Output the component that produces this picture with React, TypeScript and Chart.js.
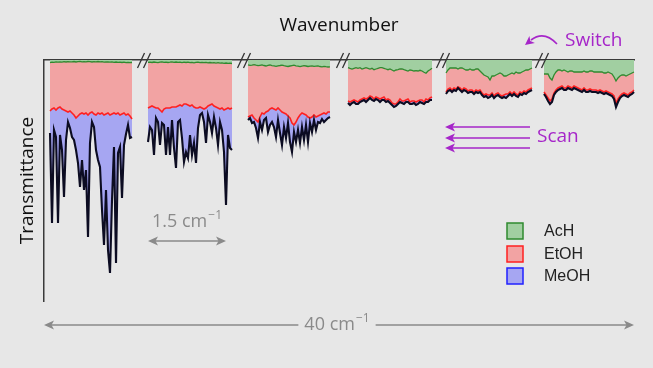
import React, { useEffect, useRef } from "react";
import { Chart, registerables } from "chart.js";

Chart.register(...registerables);

// Broken wavenumber axis: number of empty slots before each of the six windows
const GAPS = [3, 7, 7, 8, 6, 5];

// Transmittance (arbitrary units, 0 = bottom of axis) for each window
const ACH_1 = [238.4,238.9,238.6,239.1,238.8,239.2,238.9,239.3,239.0,239.4,239.1,239.2,239.5,239.0,239.3,239.6,239.2,239.4,239.1,239.5,239.3,239.0,239.4,239.2,239.5,239.1,239.3,238.9,239.2,239.0,238.8,239.1,238.7,239.0,238.6,238.9,238.5,238.8,238.4,238.7,238.3,238.5];
const ETOH_1 = [190,192,193,191,193,194,192,191,190,189,190,188,186,183,185,187,188,187,188,186,188,189,187,186,188,187,188,186,187,188,186,187,188,187,188,186,187,188,186,187,185,182];
const MEOH_1 = [168,78,171,164,78,166,151,104,161,179,173,164,161,151,138,114,141,111,131,64,158,179,174,151,141,134,91,56,111,51,28,101,154,38,148,154,103,156,167,176,163,164];

const ACH_2 = [238.6,238.9,238.5,239.0,238.7,238.4,238.8,239.1,238.6,238.9,238.5,238.8,239.2,238.7,239.0,238.6,238.9,238.4,238.8,238.5,238.9,238.3,238.7,238.2,238.6,238.9,238.4,238.7,238.3,238.6,238.1,238.5,238.2,238.4,237.9,238.3,237.8,238.1,237.7,238.0,237.6,237.8,237.5];
const ETOH_2 = [193,194,195,194,193,193,191,189,192,193,193,193,194,194,194,195,196,195,197,197,196,195,196,194,193,193,194,193,192,193,195,196,197,195,194,193,192,193,191,192,193,192,193];
const MEOH_2 = [159,174,171,146,183,179,156,178,176,146,174,146,181,153,133,179,181,163,139,149,143,166,146,158,138,173,186,188,179,158,186,179,168,184,173,156,179,171,149,96,166,153,151];

const ACH_3 = [236.2,235.6,235.9,236.4,235.8,235.3,235.7,236.1,235.5,235.0,235.6,236.0,235.4,235.1,234.6,235.2,235.5,235.9,235.3,234.9,234.5,235.0,235.4,235.8,235.2,234.8,234.3,234.9,235.3,235.0,234.5,234.9,235.2,234.6,234.9,235.1,234.5,234.2,234.7,234.3,234.0,234.2];
const ETOH_3 = [184,185,186,183,181,179,184,188,187,189,190,192,193,192,191,193,191,189,188,187,185,183,178,176,179,183,186,188,187,186,184,183,184,186,184,185,186,187,188,187,189,189];
const MEOH_3 = [181,183,178,179,173,163,179,171,181,183,169,176,179,174,164,181,168,156,174,163,178,159,149,169,159,171,158,174,161,176,159,178,169,181,171,179,178,182,179,181,183,184];

const ACH_4 = [233.3,232.6,232.0,232.7,233.3,232.7,233.3,232.0,232.7,233.3,232.7,232.0,232.7,231.3,232.0,232.7,233.3,233.3,232.7,232.0,231.3,232.0,231.0,230.0,231.0,231.3,232.0,232.0,231.3,230.7,230.0,231.0,230.7,230.0,230.3,230.0,230.7,230.0,228.7,227.7,230.0,231.3,232.7];
const ETOH_4 = [200,199,200,201,200,199,201,202,203,202,203,205,204,202,204,203,202,203,204,201,202,201,198,197,197,199,202,200,200,201,202,199,200,200,199,200,201,201,199,202,201,203,204];
const MEOH_4 = [198,196,198,199,197,197,199,200,201,199,201,203,201,200,202,201,199,201,201,199,200,198,196,194,195,197,199,198,197,199,199,197,197,198,196,197,199,198,197,199,199,201,201];

const ACH_5 = [228,231,233,233,233,233,232,233,233,232,231,231,232,231,231,232,232,230,228,226,225,224,221,225,225,226,227,228,227,225,225,226,227,228,227,229,228,228,229,230,231,231,232,233];
const ETOH_5 = [209,212,213,211,213,212,214,213,211,213,212,210,211,211,209,211,210,211,208,206,207,206,206,208,205,207,208,206,205,206,207,207,209,207,209,207,206,209,208,210,209,211,212,213];
const MEOH_5 = [207,210,211,209,211,210,213,211,209,211,210,208,209,209,207,209,208,209,206,204,205,203,204,206,203,205,206,204,203,204,203,205,207,205,207,205,204,207,206,208,207,209,210,211];

const ACH_6 = [227,227,227,223,221,226,229,231,231,230,231,230,229,230,230,229,229,229,229,229,230,229,229,230,230,229,229,229,229,229,228,228,229,228,227,224,220,223,225,226,226,225,226,227,228,229];
const ETOH_6 = [209,206,203,200,202,208,211,213,214,215,213,213,215,214,213,215,214,213,212,211,213,211,211,212,211,211,211,210,211,210,209,210,209,208,207,205,198,202,205,207,208,207,206,208,209,211];
const MEOH_6 = [207,204,200,197,199,206,209,211,212,213,211,211,213,212,211,213,212,211,210,209,211,209,209,210,209,209,209,208,209,208,207,208,207,206,205,202,194,199,203,205,206,205,204,206,207,209];

const ACH = [ACH_1, ACH_2, ACH_3, ACH_4, ACH_5, ACH_6];
const ETOH = [ETOH_1, ETOH_2, ETOH_3, ETOH_4, ETOH_5, ETOH_6];
const MEOH = [MEOH_1, MEOH_2, MEOH_3, MEOH_4, MEOH_5, MEOH_6];

const SERIES_NAMES = ["AcH", "EtOH", "MeOH"];
const Y_MAX = 241;

function joinSegments(segs: number[][]): (number | null)[] {
  const out: (number | null)[] = [];
  segs.forEach((s, k) => {
    for (let j = 0; j < GAPS[k]; j++) out.push(null);
    s.forEach((v) => out.push(v));
  });
  return out;
}

const TOTAL = GAPS.reduce((a, b) => a + b, 0) + MEOH.reduce((a, s) => a + s.length, 0);
const LABELS = Array.from({ length: TOTAL }, (_, i) => String(i));

// segment start / end indices
function segBounds() {
  const res: { start: number; end: number }[] = [];
  let idx = 0;
  MEOH.forEach((s, k) => {
    idx += GAPS[k];
    res.push({ start: idx, end: idx + s.length - 1 });
    idx += s.length;
  });
  return res;
}

const PURPLE = "#a626c9";
const GREY = "#8a8a8a";
const FONT = '"Open Sans", "Noto Sans", sans-serif';

function arrowHead(ctx: CanvasRenderingContext2D, x: number, y: number, ang: number, len: number, half: number) {
  ctx.beginPath();
  ctx.moveTo(x, y);
  ctx.lineTo(x - len * Math.cos(ang) + half * Math.sin(ang), y - len * Math.sin(ang) - half * Math.cos(ang));
  ctx.lineTo(x - len * Math.cos(ang) * 0.75, y - len * Math.sin(ang) * 0.75);
  ctx.lineTo(x - len * Math.cos(ang) - half * Math.sin(ang), y - len * Math.sin(ang) + half * Math.cos(ang));
  ctx.closePath();
  ctx.fill();
}

function cmText(ctx: CanvasRenderingContext2D, main: string, cx: number, cy: number, draw: boolean) {
  ctx.font = `18px ${FONT}`;
  const w1 = ctx.measureText(main).width;
  ctx.font = `12px ${FONT}`;
  const w2 = ctx.measureText("\u22121").width;
  const total = w1 + w2 + 1;
  if (draw) {
    const x0 = cx - total / 2;
    ctx.textAlign = "left";
    ctx.textBaseline = "middle";
    ctx.font = `18px ${FONT}`;
    ctx.fillText(main, x0, cy);
    ctx.font = `12px ${FONT}`;
    ctx.fillText("\u22121", x0 + w1 + 1, cy - 6);
  }
  return total;
}

const overlay = {
  id: "overlay",
  afterDraw(chart: any) {
    const ctx: CanvasRenderingContext2D = chart.ctx;
    const { left, right, top, bottom } = chart.chartArea;
    const xs = chart.scales.x;
    const bounds = segBounds();
    ctx.save();

    // axis break marks
    ctx.strokeStyle = "#333";
    ctx.lineWidth = 1.3;
    for (let k = 0; k < bounds.length - 1; k++) {
      const c = xs.getPixelForValue((bounds[k].end + bounds[k + 1].start) / 2) + 4;
      [-3, 3].forEach((off) => {
        ctx.beginPath();
        ctx.moveTo(c + off - 3.5, top + 8);
        ctx.lineTo(c + off + 3.5, top - 7);
        ctx.stroke();
      });
    }

    // Switch
    ctx.fillStyle = PURPLE;
    ctx.strokeStyle = PURPLE;
    ctx.font = `19px ${FONT}`;
    ctx.textAlign = "left";
    ctx.textBaseline = "middle";
    ctx.fillText("Switch", 565, 41);
    ctx.lineWidth = 1.6;
    ctx.beginPath();
    ctx.moveTo(557, 44);
    ctx.quadraticCurveTo(544, 30, 531, 40);
    ctx.stroke();
    arrowHead(ctx, 525, 45, Math.atan2(10, -13), 9, 4.5);

    // Scan
    ctx.fillText("Scan", 537, 137);
    [127, 138, 148].forEach((y) => {
      ctx.beginPath();
      ctx.moveTo(530, y);
      ctx.lineTo(452, y);
      ctx.stroke();
      arrowHead(ctx, 445, y, Math.PI, 10, 4.5);
    });

    // 1.5 cm-1 scale bar over second window
    ctx.fillStyle = GREY;
    ctx.strokeStyle = GREY;
    const a0 = xs.getPixelForValue(bounds[1].start);
    const a1 = xs.getPixelForValue(bounds[1].end) - 6;
    ctx.lineWidth = 1.6;
    ctx.beginPath();
    ctx.moveTo(a0 + 6, 241);
    ctx.lineTo(a1 - 6, 241);
    ctx.stroke();
    arrowHead(ctx, a0, 241, Math.PI, 10, 4.5);
    arrowHead(ctx, a1, 241, 0, 10, 4.5);
    cmText(ctx, "1.5 cm", (a0 + a1) / 2, 222, true);

    // 40 cm-1 full span
    const yb = 325;
    const cx = 337;
    const tw = cmText(ctx, "40 cm", cx, yb, false);
    ctx.beginPath();
    ctx.moveTo(left + 6, yb);
    ctx.lineTo(cx - tw / 2 - 6, yb);
    ctx.moveTo(cx + tw / 2 + 6, yb);
    ctx.lineTo(right - 6, yb);
    ctx.stroke();
    arrowHead(ctx, left, yb, Math.PI, 10, 4.5);
    arrowHead(ctx, right, yb, 0, 10, 4.5);
    cmText(ctx, "40 cm", cx, yb, true);

    // legend
    const ds = chart.data.datasets;
    [223, 246, 268].forEach((y, i) => {
      ctx.fillStyle = ds[i].backgroundColor;
      ctx.fillRect(507, y, 16, 16);
      ctx.strokeStyle = ds[i].legendBorder;
      ctx.lineWidth = 1.5;
      ctx.strokeRect(507, y, 16, 16);
      ctx.fillStyle = "#222";
      ctx.font = `16px "Liberation Sans", Arial, sans-serif`;
      ctx.textAlign = "left";
      ctx.textBaseline = "middle";
      ctx.fillText(ds[i].label, 544, y + 8.5);
    });
    ctx.restore();
  },
};

export default function App() {
  const ref = useRef<HTMLCanvasElement | null>(null);
  useEffect(() => {
    document.body.style.margin = "0";
    document.body.style.background = "#e7e7e7";
    const canvas = ref.current;
    if (!canvas) return;
    const common = { pointRadius: 0, tension: 0, spanGaps: false };
    const chart = new Chart(canvas, {
      type: "line",
      data: {
        labels: LABELS,
        datasets: [
          { ...common, label: SERIES_NAMES[0], data: joinSegments(ACH), borderColor: "#2f8a2f", borderWidth: 1.3, backgroundColor: "rgb(161,207,161)", legendBorder: "#2f8a2f", fill: "end", order: 2 } as any,
          { ...common, label: SERIES_NAMES[1], data: joinSegments(ETOH), borderColor: "#ff2020", borderWidth: 1.6, backgroundColor: "rgb(242,163,163)", legendBorder: "#ff2020", fill: "-1", order: 1 } as any,
          { ...common, label: SERIES_NAMES[2], data: joinSegments(MEOH), borderColor: "#0c0c22", borderWidth: 2.1, backgroundColor: "rgb(166,166,242)", legendBorder: "#2020ff", fill: "-1", order: 0 } as any,
        ],
      },
      options: {
        animation: false,
        responsive: false,
        events: [],
        layout: { padding: { left: 12.2, top: 10, right: 19, bottom: 67 } },
        plugins: {
          legend: { display: false },
          tooltip: { enabled: false },
          filler: { drawTime: "beforeDatasetsDraw", propagate: false },
        } as any,
        scales: {
          x: {
            type: "category",
            position: "top",
            z: 1,
            grid: { display: false, drawTicks: false },
            ticks: { display: false },
            border: { display: true, color: "#3a3a3a", width: 1.5 },
            title: { display: true, text: "Wavenumber", color: "#111", font: { family: FONT, size: 19 }, padding: { top: 4.6, bottom: 22.6 } },
          },
          y: {
            min: 0,
            max: Y_MAX,
            z: 1,
            grid: { display: false, drawTicks: false },
            ticks: { display: false },
            border: { display: true, color: "#3a3a3a", width: 1.5 },
            title: { display: true, text: "Transmittance", color: "#111", font: { family: FONT, size: 19 }, padding: { top: 4, bottom: 5 } },
          },
        },
      } as any,
      plugins: [overlay],
    });
    return () => chart.destroy();
  }, []);
  return (
    <div style={{ position: "fixed", left: 0, top: 0, width: 653, height: 368, background: "#e7e7e7" }}>
      <canvas ref={ref} width={653} height={368} style={{ display: "block" }} />
    </div>
  );
}
